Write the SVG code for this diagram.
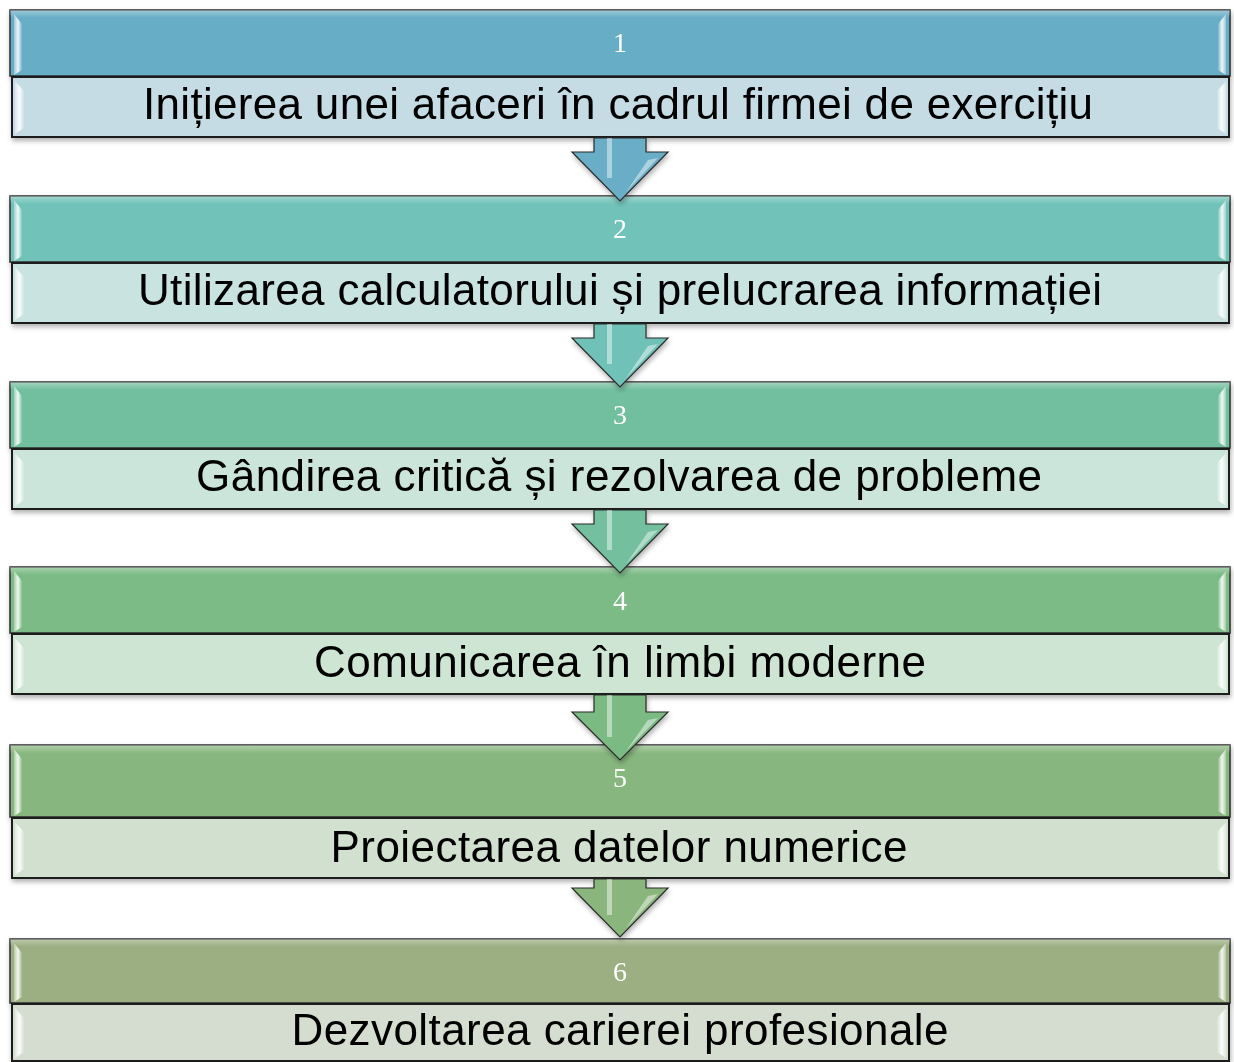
<svg xmlns="http://www.w3.org/2000/svg" width="1234" height="1062" viewBox="0 0 1234 1062">
<defs>
<style>
.band{stroke:#2b2b2b;stroke-width:1.5}
.sub{stroke:#1a1a1a;stroke-width:2}
.bev{fill:url(#bevG)}
.bevR{fill:url(#bevGR)}
.num{font-family:"Liberation Serif","Times New Roman",serif;font-size:28px;fill:#ffffff;text-anchor:middle}
.lbl{font-family:"Liberation Sans",Arial,sans-serif;font-size:44px;fill:#000000;text-anchor:middle}
.arr{stroke:#2b2b2b;stroke-width:1.2;stroke-linejoin:miter}
.shine{fill:#ffffff;opacity:0.45}
</style>
<linearGradient id="bevG" x1="0" y1="0" x2="1" y2="0">
<stop offset="0" stop-color="#ffffff" stop-opacity="0.3"/>
<stop offset="0.5" stop-color="#ffffff" stop-opacity="0.9"/>
<stop offset="1" stop-color="#ffffff" stop-opacity="0.1"/>
</linearGradient>
<linearGradient id="bevGR" x1="1" y1="0" x2="0" y2="0">
<stop offset="0" stop-color="#ffffff" stop-opacity="0.3"/>
<stop offset="0.5" stop-color="#ffffff" stop-opacity="0.9"/>
<stop offset="1" stop-color="#ffffff" stop-opacity="0.1"/>
</linearGradient>
<linearGradient id="gloss" x1="0" y1="0" x2="0" y2="1">
<stop offset="0" stop-color="#ffffff" stop-opacity="0.35"/>
<stop offset="0.12" stop-color="#ffffff" stop-opacity="0"/>
<stop offset="1" stop-color="#ffffff" stop-opacity="0"/>
</linearGradient>
<filter id="sh" x="-5%" y="-20%" width="110%" height="150%">
<feDropShadow dx="1" dy="3" stdDeviation="2.5" flood-color="#000000" flood-opacity="0.3"/>
</filter>
</defs>
<rect width="1234" height="1062" fill="#ffffff"/>

<g id="node1" filter="url(#sh)">
<rect class="band" x="10" y="10" width="1220" height="66" fill="#68adc6"/>
<rect x="10" y="10" width="1220" height="66" fill="url(#gloss)"/>
<path class="bev" d="M14,14 L22,24 L22,70 L14,75 Z"/>
<path class="bevR" d="M1226,14 L1218,24 L1218,70 L1226,75 Z"/>
<rect class="sub" x="12" y="77" width="1217" height="60" fill="#c6dce4"/>
<path class="bev" d="M15,81 L24,91 L24,128 L15,134 Z"/>
<path class="bevR" d="M1226,81 L1217,91 L1217,128 L1226,134 Z"/>
<text class="num" x="620" y="52">1</text>
<text class="lbl" x="618" y="119" textLength="950" lengthAdjust="spacing">Inițierea unei afaceri în cadrul firmei de exercițiu</text>
</g>

<g id="node2" filter="url(#sh)">
<rect class="band" x="10" y="196" width="1220" height="66" fill="#71c3b9"/>
<rect x="10" y="196" width="1220" height="66" fill="url(#gloss)"/>
<path class="bev" d="M14,200 L22,210 L22,256 L14,261 Z"/>
<path class="bevR" d="M1226,200 L1218,210 L1218,256 L1226,261 Z"/>
<rect class="sub" x="12" y="263" width="1217" height="60" fill="#c9e3e1"/>
<path class="bev" d="M15,267 L24,277 L24,314 L15,320 Z"/>
<path class="bevR" d="M1226,267 L1217,277 L1217,314 L1226,320 Z"/>
<text class="num" x="620" y="238">2</text>
<text class="lbl" x="620" y="305" textLength="964" lengthAdjust="spacing">Utilizarea calculatorului și prelucrarea informației</text>
</g>

<g id="node3" filter="url(#sh)">
<rect class="band" x="10" y="382" width="1220" height="66" fill="#72bf9f"/>
<rect x="10" y="382" width="1220" height="66" fill="url(#gloss)"/>
<path class="bev" d="M14,386 L22,396 L22,442 L14,447 Z"/>
<path class="bevR" d="M1226,386 L1218,396 L1218,442 L1226,447 Z"/>
<rect class="sub" x="12" y="449" width="1217" height="60" fill="#cbe5da"/>
<path class="bev" d="M15,453 L24,463 L24,500 L15,506 Z"/>
<path class="bevR" d="M1226,453 L1217,463 L1217,500 L1226,506 Z"/>
<text class="num" x="620" y="424">3</text>
<text class="lbl" x="619" y="491" textLength="846" lengthAdjust="spacing">Gândirea critică și rezolvarea de probleme</text>
</g>

<g id="node4" filter="url(#sh)">
<rect class="band" x="10" y="567" width="1220" height="66" fill="#7bbb85"/>
<rect x="10" y="567" width="1220" height="66" fill="url(#gloss)"/>
<path class="bev" d="M14,571 L22,581 L22,627 L14,632 Z"/>
<path class="bevR" d="M1226,571 L1218,581 L1218,627 L1226,632 Z"/>
<rect class="sub" x="12" y="634" width="1217" height="60" fill="#cfe5d4"/>
<path class="bev" d="M15,638 L24,648 L24,685 L15,691 Z"/>
<path class="bevR" d="M1226,638 L1217,648 L1217,685 L1226,691 Z"/>
<text class="num" x="620" y="610">4</text>
<text class="lbl" x="620" y="677" textLength="612" lengthAdjust="spacing">Comunicarea în limbi moderne</text>
</g>

<g id="node5" filter="url(#sh)">
<rect class="band" x="10" y="745" width="1220" height="72" fill="#87b77e"/>
<rect x="10" y="745" width="1220" height="72" fill="url(#gloss)"/>
<path class="bev" d="M14,749 L22,759 L22,811 L14,816 Z"/>
<path class="bevR" d="M1226,749 L1218,759 L1218,811 L1226,816 Z"/>
<rect class="sub" x="12" y="818" width="1217" height="60" fill="#d2e1cf"/>
<path class="bev" d="M15,822 L24,832 L24,869 L15,875 Z"/>
<path class="bevR" d="M1226,822 L1217,832 L1217,869 L1226,875 Z"/>
<text class="num" x="620" y="787">5</text>
<text class="lbl" x="619" y="862" textLength="577" lengthAdjust="spacing">Proiectarea datelor numerice</text>
</g>

<g id="node6" filter="url(#sh)">
<rect class="band" x="10" y="939" width="1220" height="64" fill="#9baf82"/>
<rect x="10" y="939" width="1220" height="64" fill="url(#gloss)"/>
<path class="bev" d="M14,943 L22,953 L22,997 L14,1002 Z"/>
<path class="bevR" d="M1226,943 L1218,953 L1218,997 L1226,1002 Z"/>
<rect class="sub" x="12" y="1004" width="1217" height="57" fill="#d5ddd0"/>
<path class="bev" d="M15,1008 L24,1018 L24,1052 L15,1058 Z"/>
<path class="bevR" d="M1226,1008 L1217,1018 L1217,1052 L1226,1058 Z"/>
<text class="num" x="620" y="981">6</text>
<text class="lbl" x="620" y="1045" textLength="657" lengthAdjust="spacing">Dezvoltarea carierei profesionale</text>
</g>

<g id="connectors">
<g filter="url(#sh)">
<path class="arr" fill="#69adc6" d="M594,138 L646,138 L646,152 L668,152 L620,201 L572,152 L594,152 Z"/>
<rect class="shine" x="607" y="138" width="5" height="40"/>
<path class="shine" d="M648,160 L658,158 L626,192 Z"/>
</g>
<g filter="url(#sh)">
<path class="arr" fill="#70c2b8" d="M594,324 L646,324 L646,338 L668,338 L620,387 L572,338 L594,338 Z"/>
<rect class="shine" x="607" y="324" width="5" height="40"/>
<path class="shine" d="M648,346 L658,344 L626,378 Z"/>
</g>
<g filter="url(#sh)">
<path class="arr" fill="#73bf9e" d="M594,510 L646,510 L646,524 L668,524 L620,573 L572,524 L594,524 Z"/>
<rect class="shine" x="607" y="510" width="5" height="40"/>
<path class="shine" d="M648,532 L658,530 L626,564 Z"/>
</g>
<g filter="url(#sh)">
<path class="arr" fill="#7cba84" d="M594,695 L646,695 L646,712 L668,712 L620,760 L572,712 L594,712 Z"/>
<rect class="shine" x="607" y="695" width="5" height="42"/>
<path class="shine" d="M648,720 L658,718 L626,751 Z"/>
</g>
<g filter="url(#sh)">
<path class="arr" fill="#8ab67d" d="M594,879 L646,879 L646,888 L668,888 L620,937 L572,888 L594,888 Z"/>
<rect class="shine" x="607" y="879" width="5" height="36"/>
<path class="shine" d="M648,896 L658,894 L626,928 Z"/>
</g>
</g>
</svg>
